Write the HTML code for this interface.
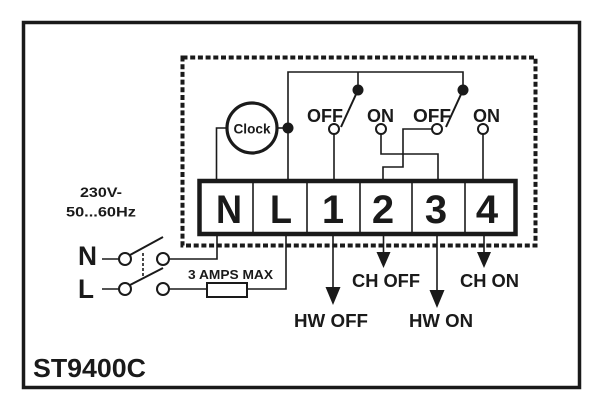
<!DOCTYPE html>
<html><head><meta charset="utf-8"><style>
html,body{margin:0;padding:0;background:#fff;}
svg{display:block;}
text{font-family:"Liberation Sans",Arial,sans-serif;font-weight:bold;fill:#1a1a1a;}
</style></head><body>
<svg width="600" height="408" viewBox="0 0 600 408" xmlns="http://www.w3.org/2000/svg">
<rect x="0" y="0" width="600" height="408" fill="#fff"/>
<!-- outer frame -->
<rect x="23.5" y="22.5" width="556" height="365" fill="none" stroke="#1a1a1a" stroke-width="3.5"/>
<!-- dashed box -->
<rect x="182.5" y="57.5" width="353" height="188" fill="none" stroke="#1a1a1a" stroke-width="4" stroke-dasharray="5 2.7"/>

<g stroke="#1a1a1a" stroke-width="1.6" fill="none">
  <!-- clock wire -->
  <polyline points="226,128 216.5,128 216.5,181"/>
  <!-- L wire up and across -->
  <polyline points="288,181 288,72 463,72 463,90"/>
  <line x1="358" y1="72" x2="358" y2="90"/>
  <line x1="277" y1="128" x2="288" y2="128"/>
  <!-- switch contacts to terminals -->
  <line x1="334" y1="134" x2="334" y2="181"/>
  <polyline points="381,134 381,154 438,154 438,181"/>
  <polyline points="432,129 403,129 403,167 383,167 383,181"/>
  <line x1="483" y1="134" x2="483" y2="181"/>
  <!-- below terminal -->
  <line x1="333" y1="234" x2="333" y2="288"/>
  <line x1="383.5" y1="234" x2="383.5" y2="253"/>
  <line x1="437" y1="234" x2="437" y2="291"/>
  <line x1="484" y1="234" x2="484" y2="253"/>
  <!-- N & L supply -->
  <line x1="102" y1="259" x2="119" y2="259"/>
  <polyline points="169,259 217,259 217,234"/>
  <line x1="102" y1="289" x2="119" y2="289"/>
  <polyline points="169,289 207,289"/>
  <polyline points="247,289 286,289 286,234"/>
  <line x1="143" y1="253" x2="143" y2="278" stroke-dasharray="3 2"/>
</g>
<!-- blades -->
<g stroke="#1a1a1a" stroke-width="2" fill="none">
  <line x1="358" y1="90" x2="341" y2="127"/>
  <line x1="463" y1="90" x2="446" y2="127"/>
  <line x1="130" y1="255" x2="163" y2="237"/>
  <line x1="130" y1="285" x2="163" y2="268"/>
</g>

<!-- labels above contacts -->
<text x="307" y="122" font-size="18" textLength="36" lengthAdjust="spacingAndGlyphs">OFF</text>
<text x="367" y="122" font-size="18" textLength="27" lengthAdjust="spacingAndGlyphs">ON</text>
<text x="413" y="122" font-size="18" textLength="38" lengthAdjust="spacingAndGlyphs">OFF</text>
<text x="473" y="122" font-size="18" textLength="27" lengthAdjust="spacingAndGlyphs">ON</text>

<!-- contacts -->
<g stroke="#1a1a1a" stroke-width="2" fill="#fff">
  <circle cx="334" cy="129" r="5"/>
  <circle cx="381" cy="129" r="5"/>
  <circle cx="437" cy="129" r="5"/>
  <circle cx="483" cy="129" r="5"/>
  <circle cx="125" cy="259" r="6"/>
  <circle cx="163" cy="259" r="6"/>
  <circle cx="125" cy="289" r="6"/>
  <circle cx="163" cy="289" r="6"/>
  <rect x="207" y="283" width="40" height="14"/>
</g>
<g fill="#1a1a1a">
  <circle cx="358" cy="90" r="5.5"/>
  <circle cx="463" cy="90" r="5.5"/>
  <circle cx="288" cy="128" r="5.5"/>
</g>

<!-- clock -->
<circle cx="252" cy="128" r="25" fill="#fff" stroke="#1a1a1a" stroke-width="3.2"/>
<text x="252" y="133.5" font-size="13.5" text-anchor="middle" textLength="37" lengthAdjust="spacingAndGlyphs">Clock</text>

<!-- terminal block -->
<rect x="199.5" y="181" width="316" height="53" fill="#fff" stroke="#1a1a1a" stroke-width="4.5"/>
<g stroke="#1a1a1a" stroke-width="1.6">
  <line x1="253" y1="183" x2="253" y2="232"/>
  <line x1="307" y1="183" x2="307" y2="232"/>
  <line x1="360" y1="183" x2="360" y2="232"/>
  <line x1="412" y1="183" x2="412" y2="232"/>
  <line x1="465" y1="183" x2="465" y2="232"/>
</g>
<g font-size="40" text-anchor="middle">
  <text x="229" y="223" textLength="26" lengthAdjust="spacingAndGlyphs">N</text>
  <text x="281" y="223" textLength="22" lengthAdjust="spacingAndGlyphs">L</text>
  <text x="333" y="223">1</text>
  <text x="383" y="223">2</text>
  <text x="436" y="223">3</text>
  <text x="487" y="223">4</text>
</g>

<!-- arrows -->
<g fill="#1a1a1a">
  <polygon points="325.5,287 340.5,287 333,305"/>
  <polygon points="376.5,252 390.5,252 383.5,268"/>
  <polygon points="429.5,290 444.5,290 437,308"/>
  <polygon points="477,252 491,252 484,268"/>
</g>

<!-- output labels -->
<text x="352" y="287" font-size="18" textLength="68" lengthAdjust="spacingAndGlyphs">CH OFF</text>
<text x="460" y="287" font-size="18" textLength="59" lengthAdjust="spacingAndGlyphs">CH ON</text>
<text x="294" y="327" font-size="18" textLength="74" lengthAdjust="spacingAndGlyphs">HW OFF</text>
<text x="409" y="327" font-size="18" textLength="64" lengthAdjust="spacingAndGlyphs">HW ON</text>

<!-- supply labels -->
<text x="80" y="197" font-size="14" textLength="42" lengthAdjust="spacingAndGlyphs">230V-</text>
<text x="66" y="216.5" font-size="14" textLength="70" lengthAdjust="spacingAndGlyphs">50...60Hz</text>
<text x="78" y="265" font-size="27" textLength="19" lengthAdjust="spacingAndGlyphs">N</text>
<text x="78" y="298" font-size="27" textLength="16" lengthAdjust="spacingAndGlyphs">L</text>
<text x="188" y="279" font-size="13" textLength="85" lengthAdjust="spacingAndGlyphs">3 AMPS MAX</text>

<!-- model -->
<text x="33" y="377" font-size="26" textLength="113" lengthAdjust="spacingAndGlyphs">ST9400C</text>
</svg>
</body></html>
